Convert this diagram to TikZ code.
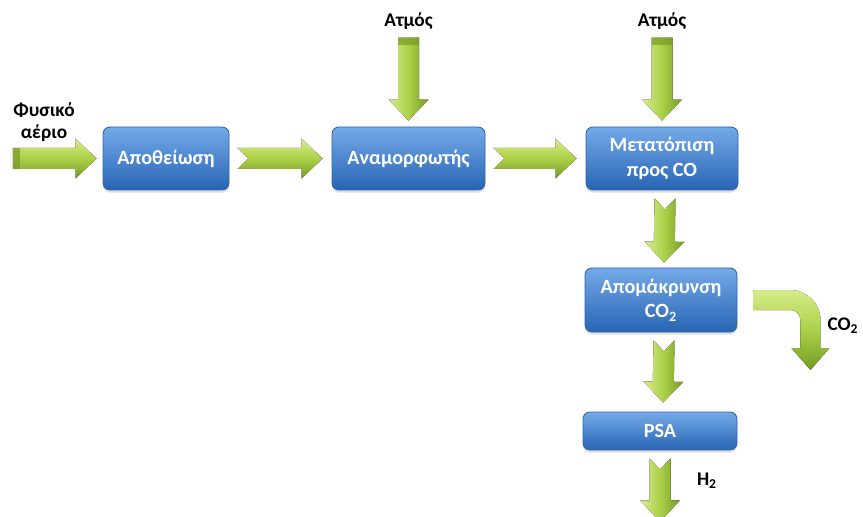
\documentclass[tikz,border=0pt]{standalone}
\usepackage{fontspec}
\setmainfont{Carlito}
\usetikzlibrary{calc,shadows}

\definecolor{boxtop}{RGB}{116,170,232}
\definecolor{boxbot}{RGB}{40,100,180}
\definecolor{boxedge}{RGB}{52,100,168}
\definecolor{arrowlight}{RGB}{214,236,140}
\definecolor{arrowmid}{RGB}{172,208,72}
\definecolor{arrowdark}{RGB}{116,156,36}

% block arrow, tail #2 -> tip #3, notch depth #4
\newcommand{\blockarrow}[4][]{%
  \fill[#1] ($(#2)!0.21cm!90:(#3)$)
    -- ($($(#3)!0.42cm!(#2)$)!0.21cm!90:(#3)$)
    -- ($($(#3)!0.42cm!(#2)$)!0.40cm!90:(#3)$)
    -- (#3)
    -- ($($(#3)!0.42cm!(#2)$)!0.40cm!-90:(#3)$)
    -- ($($(#3)!0.42cm!(#2)$)!0.21cm!-90:(#3)$)
    -- ($(#2)!0.21cm!-90:(#3)$)
    -- ($(#2)!#4!(#3)$) -- cycle;}
% darker band at the tail of a feed arrow
\newcommand{\tailband}[2]{%
  \fill[arrowdark, opacity=0.7] ($(#1)!0.21cm!90:(#2)$)
    -- ($($(#1)!0.14cm!(#2)$)!0.21cm!90:(#2)$)
    -- ($($(#1)!0.14cm!(#2)$)!0.21cm!-90:(#2)$)
    -- ($(#1)!0.21cm!-90:(#2)$) -- cycle;}

\tikzset{
  stage/.style={rectangle, rounded corners=4pt, draw=boxedge, line width=0.5pt,
    top color=boxtop, bottom color=boxbot, text=white, align=center,
    font=\bfseries\fontsize{11.5}{14}\selectfont, inner sep=2pt,
    drop shadow={shadow xshift=0pt, shadow yshift=-1.5pt, opacity=0.25}},
  streamtext/.style={font=\bfseries\fontsize{11}{12.5}\selectfont, align=center},
  harrow/.style={top color=arrowlight, bottom color=arrowdark, middle color=arrowmid},
  varrow/.style={left color=arrowlight, right color=arrowdark, middle color=arrowmid},
}

\begin{document}
\begin{tikzpicture}
  \useasboundingbox (0,0) rectangle (17.26,-10.34);

  % ==================== stages ====================
  \node[stage, minimum width=2.52cm, minimum height=1.26cm] (desulf) at (3.32,-3.17) {Αποθείωση};
  \node[stage, minimum width=3.06cm, minimum height=1.26cm] (reformer) at (8.17,-3.17) {Αναμορφωτής};
  \node[stage, minimum width=3.04cm, minimum height=1.26cm] (shift) at (13.24,-3.17) {Μετατόπιση\\προς CO};
  \node[stage, minimum width=3.04cm, minimum height=1.28cm] (removal) at (13.22,-6.00) {Απομάκρυνση\\CO\textsubscript{2}};
  \node[stage, minimum width=3.08cm, minimum height=0.76cm] (psa) at (13.20,-8.62) {PSA};

  % ==================== end points ====================
  \coordinate (gasin) at (0.26,-3.17);
  \coordinate (gastip) at ([xshift=-0.12cm]desulf.west);
  \coordinate (dsout) at ([xshift=0.16cm]desulf.east);
  \coordinate (rfin) at ([xshift=-0.18cm]reformer.west);
  \coordinate (rfout) at ([xshift=0.16cm]reformer.east);
  \coordinate (shin) at ([xshift=-0.18cm]shift.west);
  \coordinate (steamA) at ([yshift=1.78cm]reformer.north);
  \coordinate (steamAtip) at ([yshift=0.12cm]reformer.north);
  \coordinate (steamB) at ([yshift=1.78cm]shift.north);
  \coordinate (steamBtip) at ([yshift=0.12cm]shift.north);
  \coordinate (shout) at ([xshift=0.06cm, yshift=-0.16cm]shift.south);
  \coordinate (rmin) at ([xshift=0.06cm, yshift=0.10cm]removal.north);
  \coordinate (rmout) at ([xshift=0.06cm, yshift=-0.16cm]removal.south);
  \coordinate (psain) at ([xshift=0.06cm, yshift=0.18cm]psa.north);
  \coordinate (psaout) at ([yshift=-0.16cm]psa.south);
  \coordinate (hydro) at ([yshift=-1.42cm]psa.south);
  \coordinate (co2out) at ([xshift=0.32cm]removal.east);

  % ==================== feed arrows ====================
  \blockarrow[harrow]{gasin}{gastip}{0cm}
  \tailband{gasin}{gastip}
  \blockarrow[varrow]{steamA}{steamAtip}{0cm}
  \tailband{steamA}{steamAtip}
  \blockarrow[varrow]{steamB}{steamBtip}{0cm}
  \tailband{steamB}{steamBtip}

  % ==================== process arrows ====================
  \blockarrow[harrow]{dsout}{rfin}{0.22cm}
  \blockarrow[harrow]{rfout}{shin}{0.22cm}
  \blockarrow[varrow]{shout}{rmin}{0.22cm}
  \blockarrow[varrow]{rmout}{psain}{0.22cm}
  \blockarrow[varrow]{psaout}{hydro}{0.22cm}

  % bent CO2 arrow
  \fill[top color=arrowlight, bottom color=arrowdark, middle color=arrowmid]
    ([yshift=0.2cm]co2out) -- ++(0.74,0) arc[start angle=90, end angle=0, radius=0.6]
    -- ++(0,-0.56) -- ++(0.18,0) -- ++(-0.38,-0.44) -- ++(-0.38,0.44) -- ++(0.18,0)
    -- ++(0,0.56) arc[start angle=0, end angle=90, radius=0.2] -- ++(-0.74,0) -- cycle;

  % ==================== stream labels ====================
  \node[streamtext] (gaslbl) at (0.88,-2.44) {Φυσικό\\αέριο};
  \node[streamtext] (steamAlbl) at ([yshift=0.32cm]steamA) {Ατμός};
  \node[streamtext] (steamBlbl) at ([yshift=0.32cm]steamB) {Ατμός};
  \node[streamtext] (co2lbl) at (16.86,-6.52) {CO\textsubscript{2}};
  \node[streamtext] (h2lbl) at (14.14,-9.62) {H\textsubscript{2}};
\end{tikzpicture}
\end{document}
